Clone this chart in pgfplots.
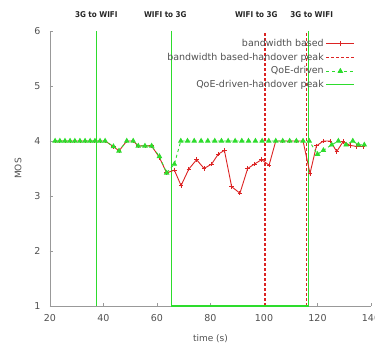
\documentclass[border=0pt]{standalone}
\usepackage{fontspec}
\setmainfont{DejaVu Sans}
\newfontfamily\condbf{DejaVu Sans Condensed}
\usepackage{pgfplots}
\pgfplotsset{compat=1.18}
\definecolor{myred}{RGB}{220,35,35}
\definecolor{mygreen}{RGB}{45,220,45}
\definecolor{txt}{RGB}{80,80,80}
\begin{document}
\begin{tikzpicture}
\begin{axis}[
  scale only axis, width=321pt, height=275pt,
  xmin=20, xmax=140, ymin=1, ymax=6,
  xtick={20,40,...,140}, ytick={1,2,...,6},
  axis x line*=bottom, axis y line*=left,
  axis line style={draw=gray!80, line width=0.6pt},
  tick align=inside, major tick length=3pt,
  tick style={gray!80, line width=0.5pt},
  /pgf/number format/assume math mode=true,
  tick label style={font=\fontsize{9.5}{11}\selectfont, text=txt},
  xticklabel style={yshift=-5pt},
  yticklabel style={xshift=-6pt},
  xlabel={time (s)}, ylabel={MOS},
  label style={font=\fontsize{9}{11}\selectfont, text=txt},
  xlabel style={yshift=-6pt},
  ylabel style={yshift=6pt},
  clip=false,
  legend style={at={(rel axis cs:0.96,0.985)}, anchor=north east, draw=none, fill=none,
    font=\fontsize{9.5}{11}\selectfont, text=txt, row sep=1pt},
  legend cell align=right, legend plot pos=right,
  legend image code/.code={\draw[mark repeat=2,mark phase=2] plot coordinates {(0pt,0pt)(14pt,0pt)(28pt,0pt)};},
]
\addplot[color=myred, line width=1.2pt, densely dashed, forget plot] coordinates {(100.4,1)(100.4,6)};
\addplot[color=myred, line width=1.2pt, densely dashed, forget plot] coordinates {(116.0,1)(116.0,6)};
\addplot[color=mygreen, line width=1.1pt, forget plot] coordinates {(65.35,6)(65.35,1)(116.6,1)(116.6,6)};
\addplot[color=mygreen, line width=1.1pt, forget plot] coordinates {(37.3,1)(37.3,6)};
\addplot[color=myred, line width=0.9pt, mark=+, mark size=2.2pt, mark options={solid}] coordinates {
(21.9,4.0)(23.7,4.0)(25.6,4.0)(27.5,4.0)(29.3,4.0)(31.2,4.0)(33.1,4.0)(35.0,4.0)(36.8,4.0)(38.7,4.0)(40.6,4.0)
(43.7,3.9)(45.8,3.82)(48.7,4.0)(51.1,4.0)(53.0,3.91)(55.5,3.91)(58.0,3.91)(60.9,3.70)(63.6,3.42)
(66.5,3.47)(69.0,3.19)(71.9,3.49)(74.8,3.66)(77.6,3.50)(80.4,3.58)(82.9,3.76)(85.2,3.83)(87.9,3.17)
(91.0,3.05)(93.9,3.50)(96.4,3.58)(99.1,3.66)(101.9,3.56)(104.4,4.0)(107.0,4.0)(109.6,4.0)(112.1,4.0)
(114.6,4.0)(117.2,3.41)(119.6,3.91)(122.2,4.0)(124.7,4.0)(127.2,3.81)(129.6,3.99)(132.2,3.92)
(134.7,3.9)(137.1,3.9)};
\addlegendentry{bandwidth based}
\addlegendimage{color=myred, line width=1.2pt, densely dashed}
\addlegendentry{bandwidth based-handover peak}
\addplot[color=mygreen, line width=0.9pt, dashed, mark=triangle*, mark size=2.4pt, mark options={solid}] coordinates {
(21.9,4.0)(23.7,4.0)(25.6,4.0)(27.5,4.0)(29.3,4.0)(31.2,4.0)(33.1,4.0)(35.0,4.0)(36.8,4.0)(38.7,4.0)(40.6,4.0)
(43.7,3.9)(45.8,3.82)(48.7,4.0)(51.1,4.0)(53.0,3.91)(55.5,3.91)(58.0,3.91)(60.9,3.72)(63.6,3.42)
(66.5,3.58)(68.9,4.0)(71.4,4.0)(73.9,4.0)(76.5,4.0)(79.0,4.0)(81.6,4.0)(84.1,4.0)(86.6,4.0)(89.2,4.0)
(91.7,4.0)(94.2,4.0)(96.8,4.0)(99.3,4.0)(101.8,4.0)(104.4,4.0)(107.0,4.0)(109.6,4.0)(112.1,4.0)
(114.6,4.0)(116.9,4.0)(120.0,3.76)(122.2,3.83)(125.3,3.93)(127.8,4.0)(130.7,3.93)(133.2,4.0)
(135.3,3.93)(137.5,3.93)};
\addlegendentry{QoE-driven}
\addlegendimage{color=mygreen, line width=1.1pt}
\addlegendentry{QoE-driven-handover peak}
\coordinate (O) at (rel axis cs:0,0);
\end{axis}
\begin{scope}[every node/.style={font=\condbf\bfseries\fontsize{8}{9}\selectfont, text=black!85}]
\node at (O) [xshift=46.3pt, yshift=291pt] {3G to WIFI};
\node at (O) [xshift=115.3pt, yshift=291pt] {WIFI to 3G};
\node at (O) [xshift=206.3pt, yshift=291pt] {WIFI to 3G};
\node at (O) [xshift=261.7pt, yshift=291pt] {3G to WIFI};
\end{scope}
\pgfresetboundingbox
\path ([shift={(-50pt,-41pt)}]O) rectangle ++(375pt,347pt);
\end{tikzpicture}
\end{document}
